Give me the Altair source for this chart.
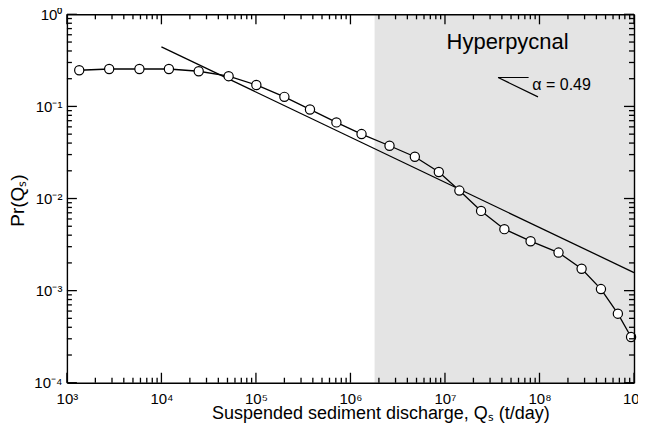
import altair as alt
import pandas as pd

# ---- data ----
qs = [1.35e3, 2.80e3, 5.85e3, 1.20e4, 2.48e4, 5.14e4, 1.01e5, 2.00e5, 3.73e5,
      7.10e5, 1.31e6, 2.59e6, 4.80e6, 8.61e6, 1.42e7, 2.41e7, 4.25e7, 8.05e7,
      1.59e8, 2.79e8, 4.47e8, 6.75e8, 9.31e8]
pr = [0.247, 0.255, 0.255, 0.255, 0.241, 0.213, 0.171, 0.127, 0.0927,
      0.0671, 0.0501, 0.0374, 0.0284, 0.0194, 0.0122, 0.00734, 0.00465, 0.00344,
      0.00259, 0.00173, 0.00104, 0.000562, 0.000314]

fit_q = [1.0e4, 1.0e9]
fit_pr = [0.443, 0.00157]

hyper_q = [1.8e6, 1.0e9]
hyper_pr = [1.0e-4, 1.0]

tri_q = [7.67e7, 3.65e7, 9.64e7]
tri_pr = [0.206, 0.206, 0.127]

label_hyper = ["Hyperpycnal"]
label_hyper_q = [4.6e7]
label_hyper_pr = [0.50]

label_alpha = ["α = 0.49"]
label_alpha_q = [8.4e7]
label_alpha_pr = [0.172]

x_exps = [3, 4, 5, 6, 7, 8, 9]
y_exps = [-4, -3, -2, -1, 0]

x_major = [10.0 ** e for e in x_exps]
x_minor = [m * 10.0 ** e for e in x_exps[:-1] for m in range(2, 10)]
y_major = [10.0 ** e for e in y_exps]
y_minor = [m * 10.0 ** e for e in y_exps[:-1] for m in range(2, 10)]

W, H = 568, 369
FONT = "Liberation Sans"
SUP = str.maketrans("-0123456789", "⁻⁰¹²³⁴⁵⁶⁷⁸⁹")
LG = "log(datum.value)/LN10"
MAJ, MIN = 10, 5


def label_expr(exps):
    parts = " : ".join(f"abs({LG} - ({e})) < 1e-6 ? '10{str(e).translate(SUP)}'" for e in exps)
    return parts + " : ''"


xs = alt.Scale(type="log", domain=[1e3, 1e9], nice=False)
ys = alt.Scale(type="log", domain=[1e-4, 1], nice=False)

border = dict(grid=False, zindex=2, domainColor="black", domainWidth=1.4)

x_label_axis = alt.Axis(orient="bottom", values=x_major, labelExpr=label_expr(x_exps),
                        ticks=False, tickSize=0, domain=True, labelFont=FONT, labelFontSize=15,
                        labelColor="black", labelPadding=9, labelOverlap=False, labelFlush=False,
                        title="Suspended sediment discharge, Qₛ (t/day)", titleFont=FONT,
                        titleFontSize=18, titleFontWeight="normal", titleColor="black",
                        titleX=314, titleY=36, titleAlign="center", titleBaseline="alphabetic",
                        **border)
y_label_axis = alt.Axis(orient="left", values=y_major, labelExpr=label_expr(y_exps),
                        ticks=False, tickSize=0, domain=True, labelFont=FONT, labelFontSize=15,
                        labelColor="black", labelPadding=5, labelOverlap=False, labelFlush=False,
                        title="Pr(Qₛ)", titleFont=FONT, titleFontSize=19,
                        titleFontWeight="normal", titleColor="black", titleAngle=270,
                        titleX=-43, titleY=186, titleAlign="center", titleBaseline="alphabetic",
                        **border)
# top and right frame lines
x_top_axis = alt.Axis(orient="bottom", offset=-H, values=x_major, labels=False, ticks=False,
                      tickSize=0, domain=True, title=None, **border)
y_right_axis = alt.Axis(orient="left", offset=-W, values=y_major, labels=False, ticks=False,
                        tickSize=0, domain=True, title=None, **border)

shade_df = pd.DataFrame({"q0": [hyper_q[0]], "q1": [hyper_q[1]],
                         "p0": [hyper_pr[0]], "p1": [hyper_pr[1]]})
data_df = pd.DataFrame({"q": qs, "p": pr})
fit_df = pd.DataFrame({"q": fit_q, "p": fit_pr})
tri_df = pd.DataFrame({"q": tri_q, "p": tri_pr, "o": list(range(len(tri_q)))})
hyper_df = pd.DataFrame({"q": label_hyper_q, "p": label_hyper_pr, "t": label_hyper})
alpha_df = pd.DataFrame({"q": label_alpha_q, "p": label_alpha_pr, "t": label_alpha})

shade = alt.Chart(shade_df).mark_rect(color="#e4e4e4").encode(
    x=alt.X("q0:Q", scale=xs, axis=x_label_axis),
    x2="q1:Q",
    y=alt.Y("p0:Q", scale=ys, axis=y_label_axis),
    y2="p1:Q",
)

fit = alt.Chart(fit_df).mark_line(color="black", strokeWidth=1.3).encode(
    x=alt.X("q:Q", scale=xs, axis=x_top_axis),
    y=alt.Y("p:Q", scale=ys, axis=y_right_axis),
)

curve = alt.Chart(data_df).mark_line(color="black", strokeWidth=1.3).encode(
    x=alt.X("q:Q", scale=xs, axis=None),
    y=alt.Y("p:Q", scale=ys, axis=None),
)

points = alt.Chart(data_df).mark_point(shape="circle", filled=True, fill="white",
                                       stroke="black", strokeWidth=1.2, size=85,
                                       opacity=1).encode(
    x=alt.X("q:Q", scale=xs, axis=None),
    y=alt.Y("p:Q", scale=ys, axis=None),
)

tri = alt.Chart(tri_df).mark_line(color="black", strokeWidth=1.2).encode(
    x=alt.X("q:Q", scale=xs, axis=None),
    y=alt.Y("p:Q", scale=ys, axis=None),
    order="o:Q",
)

hyper_text = alt.Chart(hyper_df).mark_text(font=FONT, fontSize=22, color="black",
                                           align="center", baseline="middle").encode(
    x=alt.X("q:Q", scale=xs, axis=None),
    y=alt.Y("p:Q", scale=ys, axis=None),
    text="t:N",
)

alpha_text = alt.Chart(alpha_df).mark_text(font=FONT, fontSize=16, color="black",
                                           align="left", baseline="middle").encode(
    x=alt.X("q:Q", scale=xs, axis=None),
    y=alt.Y("p:Q", scale=ys, axis=None),
    text="t:N",
)

TICK_COLOR = "black"


# inward tick marks on all four sides of the frame, drawn as rules
def x_ticks(values, size, edge):
    df = pd.DataFrame({"v": values})
    y0 = H if edge == "bottom" else 0
    y1 = H - size if edge == "bottom" else size
    return alt.Chart(df).mark_rule(color=TICK_COLOR, strokeWidth=1.3).encode(
        x=alt.X("v:Q", scale=xs, axis=None),
        y=alt.value(y0),
        y2=alt.value(y1),
    )


def y_ticks(values, size, edge):
    df = pd.DataFrame({"v": values})
    x0 = 0 if edge == "left" else W
    x1 = size if edge == "left" else W - size
    return alt.Chart(df).mark_rule(color=TICK_COLOR, strokeWidth=1.3).encode(
        y=alt.Y("v:Q", scale=ys, axis=None),
        x=alt.value(x0),
        x2=alt.value(x1),
    )


tick_layers = [
    x_ticks(x_major, MAJ, "bottom"), x_ticks(x_minor, MIN, "bottom"),
    x_ticks(x_major, MAJ, "top"), x_ticks(x_minor, MIN, "top"),
    y_ticks(y_major, MAJ, "left"), y_ticks(y_minor, MIN, "left"),
    y_ticks(y_major, MAJ, "right"), y_ticks(y_minor, MIN, "right"),
]

chart = alt.layer(shade, fit, curve, points, tri, hyper_text, alpha_text,
                  *tick_layers).resolve_axis(
    x="independent", y="independent"
).properties(
    width=W, height=H,
    autosize=alt.AutoSizeParams(type="none"),
    padding={"left": 59, "top": 6, "right": 4, "bottom": 40},
).configure_view(stroke=None)

chart.save("out.html", embed_options={"renderer": "svg", "actions": False})
